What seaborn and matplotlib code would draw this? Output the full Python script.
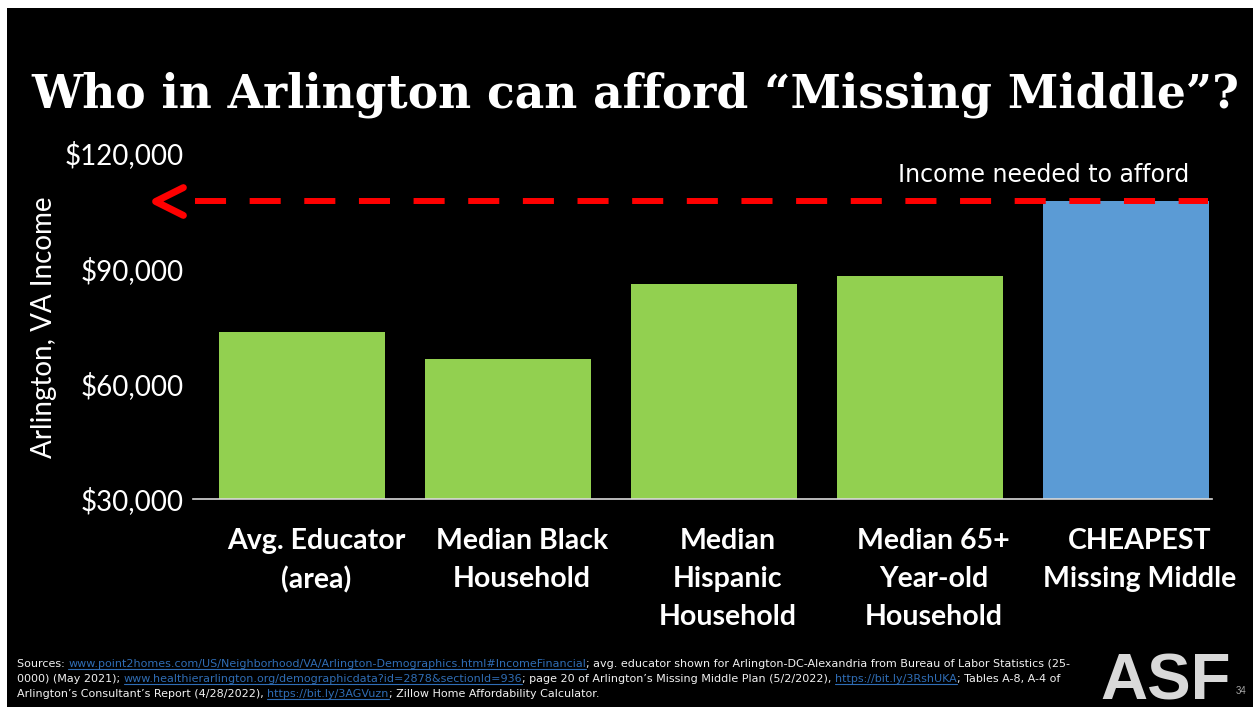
import numpy as np
import pandas as pd
import matplotlib
matplotlib.use("Agg")
import matplotlib.pyplot as plt
import matplotlib.transforms as mtransforms
import seaborn as sns
from matplotlib.path import Path
from matplotlib.markers import MarkerStyle
from matplotlib.patches import Rectangle
from matplotlib.lines import Line2D

# Data
categories = ["Avg. Educator\n(area)", "Median Black\nHousehold", "Median\nHispanic\nHousehold",
              "Median 65+\nYear-old\nHousehold", "CHEAPEST\nMissing Middle"]
incomes = [73400, 66400, 85900, 88000, 107500]
bar_colors = ["#92D050", "#92D050", "#92D050", "#92D050", "#5B9BD5"]
income_needed = 107500
y_ticks = [30000, 60000, 90000, 120000]
y_tick_labels = ["$30,000", "$60,000", "$90,000", "$120,000"]

title = "Who in Arlington can afford \u201cMissing Middle\u201d?"
sources = [
    [("Sources: ", False),
     ("www.point2homes.com/US/Neighborhood/VA/Arlington-Demographics.html#IncomeFinancial", True),
     ("; avg. educator shown for Arlington-DC-Alexandria from Bureau of Labor Statistics (25-", False)],
    [("0000) (May 2021); ", False),
     ("www.healthierarlington.org/demographicdata?id=2878&sectionId=936", True),
     ("; page 20 of Arlington\u2019s Missing Middle Plan (5/2/2022), ", False),
     ("https://bit.ly/3RshUKA", True),
     ("; Tables A-8, A-4 of", False)],
    [("Arlington\u2019s Consultant\u2019s Report (4/28/2022), ", False),
     ("https://bit.ly/3AGVuzn", True),
     ("; Zillow Home Affordability Calculator.", False)],
]

W, H = 1253, 707
sns.set_theme(style="white")
plt.rcParams["font.family"] = ["Lato", "DejaVu Sans"]

fig = plt.figure(figsize=(W / 100, H / 100), dpi=100, facecolor="white")
# black slide area
fig.patches.append(Rectangle((7 / W, 0), 1, 1 - 8 / H, transform=fig.transFigure,
                             facecolor="black", edgecolor="none", zorder=-10))

ax = fig.add_axes([193 / W, 1 - 499 / H, (1212 - 193) / W, (499 - 153) / H])
ax.set_facecolor("none")

df = pd.DataFrame({"cat": categories, "income": incomes})
sns.barplot(data=df, x="cat", y="income", hue="cat", palette=bar_colors,
            legend=False, width=0.806, saturation=1, linewidth=0, edgecolor="none", ax=ax)

ax.set_ylim(30000, 120000)
ax.set_xlim(-0.53, 4.42)
ax.set_yticks(y_ticks)
ax.set_yticklabels(y_tick_labels, color="white", fontsize=20)
ax.tick_params(axis="y", length=0, pad=7)
ax.tick_params(axis="x", length=0, pad=21)
shift = mtransforms.ScaledTranslation(14 / 100, 0, fig.dpi_scale_trans)
for lbl in ax.get_xticklabels():
    lbl.set_color("white")
    lbl.set_fontsize(20.5)
    lbl.set_fontweight("bold")
    lbl.set_verticalalignment("top")
    lbl.set_linespacing(1.56)
    lbl.set_transform(lbl.get_transform() + shift)
ax.set_xlabel("")
ax.set_ylabel("Arlington, VA Income", color="white", fontsize=20, va="center")
ax.yaxis.set_label_coords(-0.146, 0.497)
for s in ["top", "right", "left"]:
    ax.spines[s].set_visible(False)
ax.spines["bottom"].set_color("#D9D9D9")
ax.spines["bottom"].set_linewidth(1.2)

# dashed "income needed" line with chevron
ax.plot([-0.52, 4.402], [income_needed, income_needed], color="#FF0000", lw=4.3,
        dashes=(5.2, 3.95), clip_on=False, zorder=5, dash_capstyle="butt")
chev = MarkerStyle(Path([(1, 1), (-1, 0), (1, -1)], [Path.MOVETO, Path.LINETO, Path.LINETO]),
                   fillstyle="none", joinstyle="round", capstyle="round")
ax.plot([-0.0236], [income_needed], marker=chev, markersize=20, mec="#FF0000", mew=5,
        transform=ax.get_yaxis_transform(), clip_on=False, zorder=6, linestyle="none")
ax.annotate("Income needed to afford", xy=(0.978, income_needed),
            xycoords=ax.get_yaxis_transform(), xytext=(0, 14), textcoords="offset pixels",
            ha="right", va="bottom", color="white", fontsize=17, family=["DejaVu Sans"])

fig.canvas.draw()
renderer = fig.canvas.get_renderer()

# title, sized to span the slide like the reference
t = fig.text(635 / W, 1 - 108 / H, title, ha="center", va="baseline", color="white",
             fontsize=38, fontweight="bold", family=["DejaVu Serif"])
tw = t.get_window_extent(renderer).width
t.set_fontsize(38 * 1210 / tw)

# sources footnote with link segments
baselines = [667, 682, 697]
for line, yb in zip(sources, baselines):
    x = 17
    for txt, link in line:
        s = fig.text(x / W, 1 - yb / H, txt, ha="left", va="baseline", fontsize=8.0,
                     color="#2F6DB5" if link else "#F2F2F2", family=["DejaVu Sans"])
        bb = s.get_window_extent(renderer)
        if link:
            fig.lines.append(Line2D([bb.x0 / W, bb.x1 / W], [(H - yb - 2) / H] * 2,
                                    transform=fig.transFigure, color="#2F6DB5", lw=0.8))
        x = bb.x1

fig.text(1100 / W, 1 - 699 / H, "ASF", ha="left", va="baseline", color="#D9D9D9",
         fontsize=47, fontweight="bold", family=["Liberation Sans"])
fig.text(1236 / W, 1 - 694 / H, "34", ha="left", va="baseline", color="#A6A6A6",
         fontsize=7, family=["Liberation Sans"])

fig.savefig("out.png", dpi=100, facecolor=fig.get_facecolor())
